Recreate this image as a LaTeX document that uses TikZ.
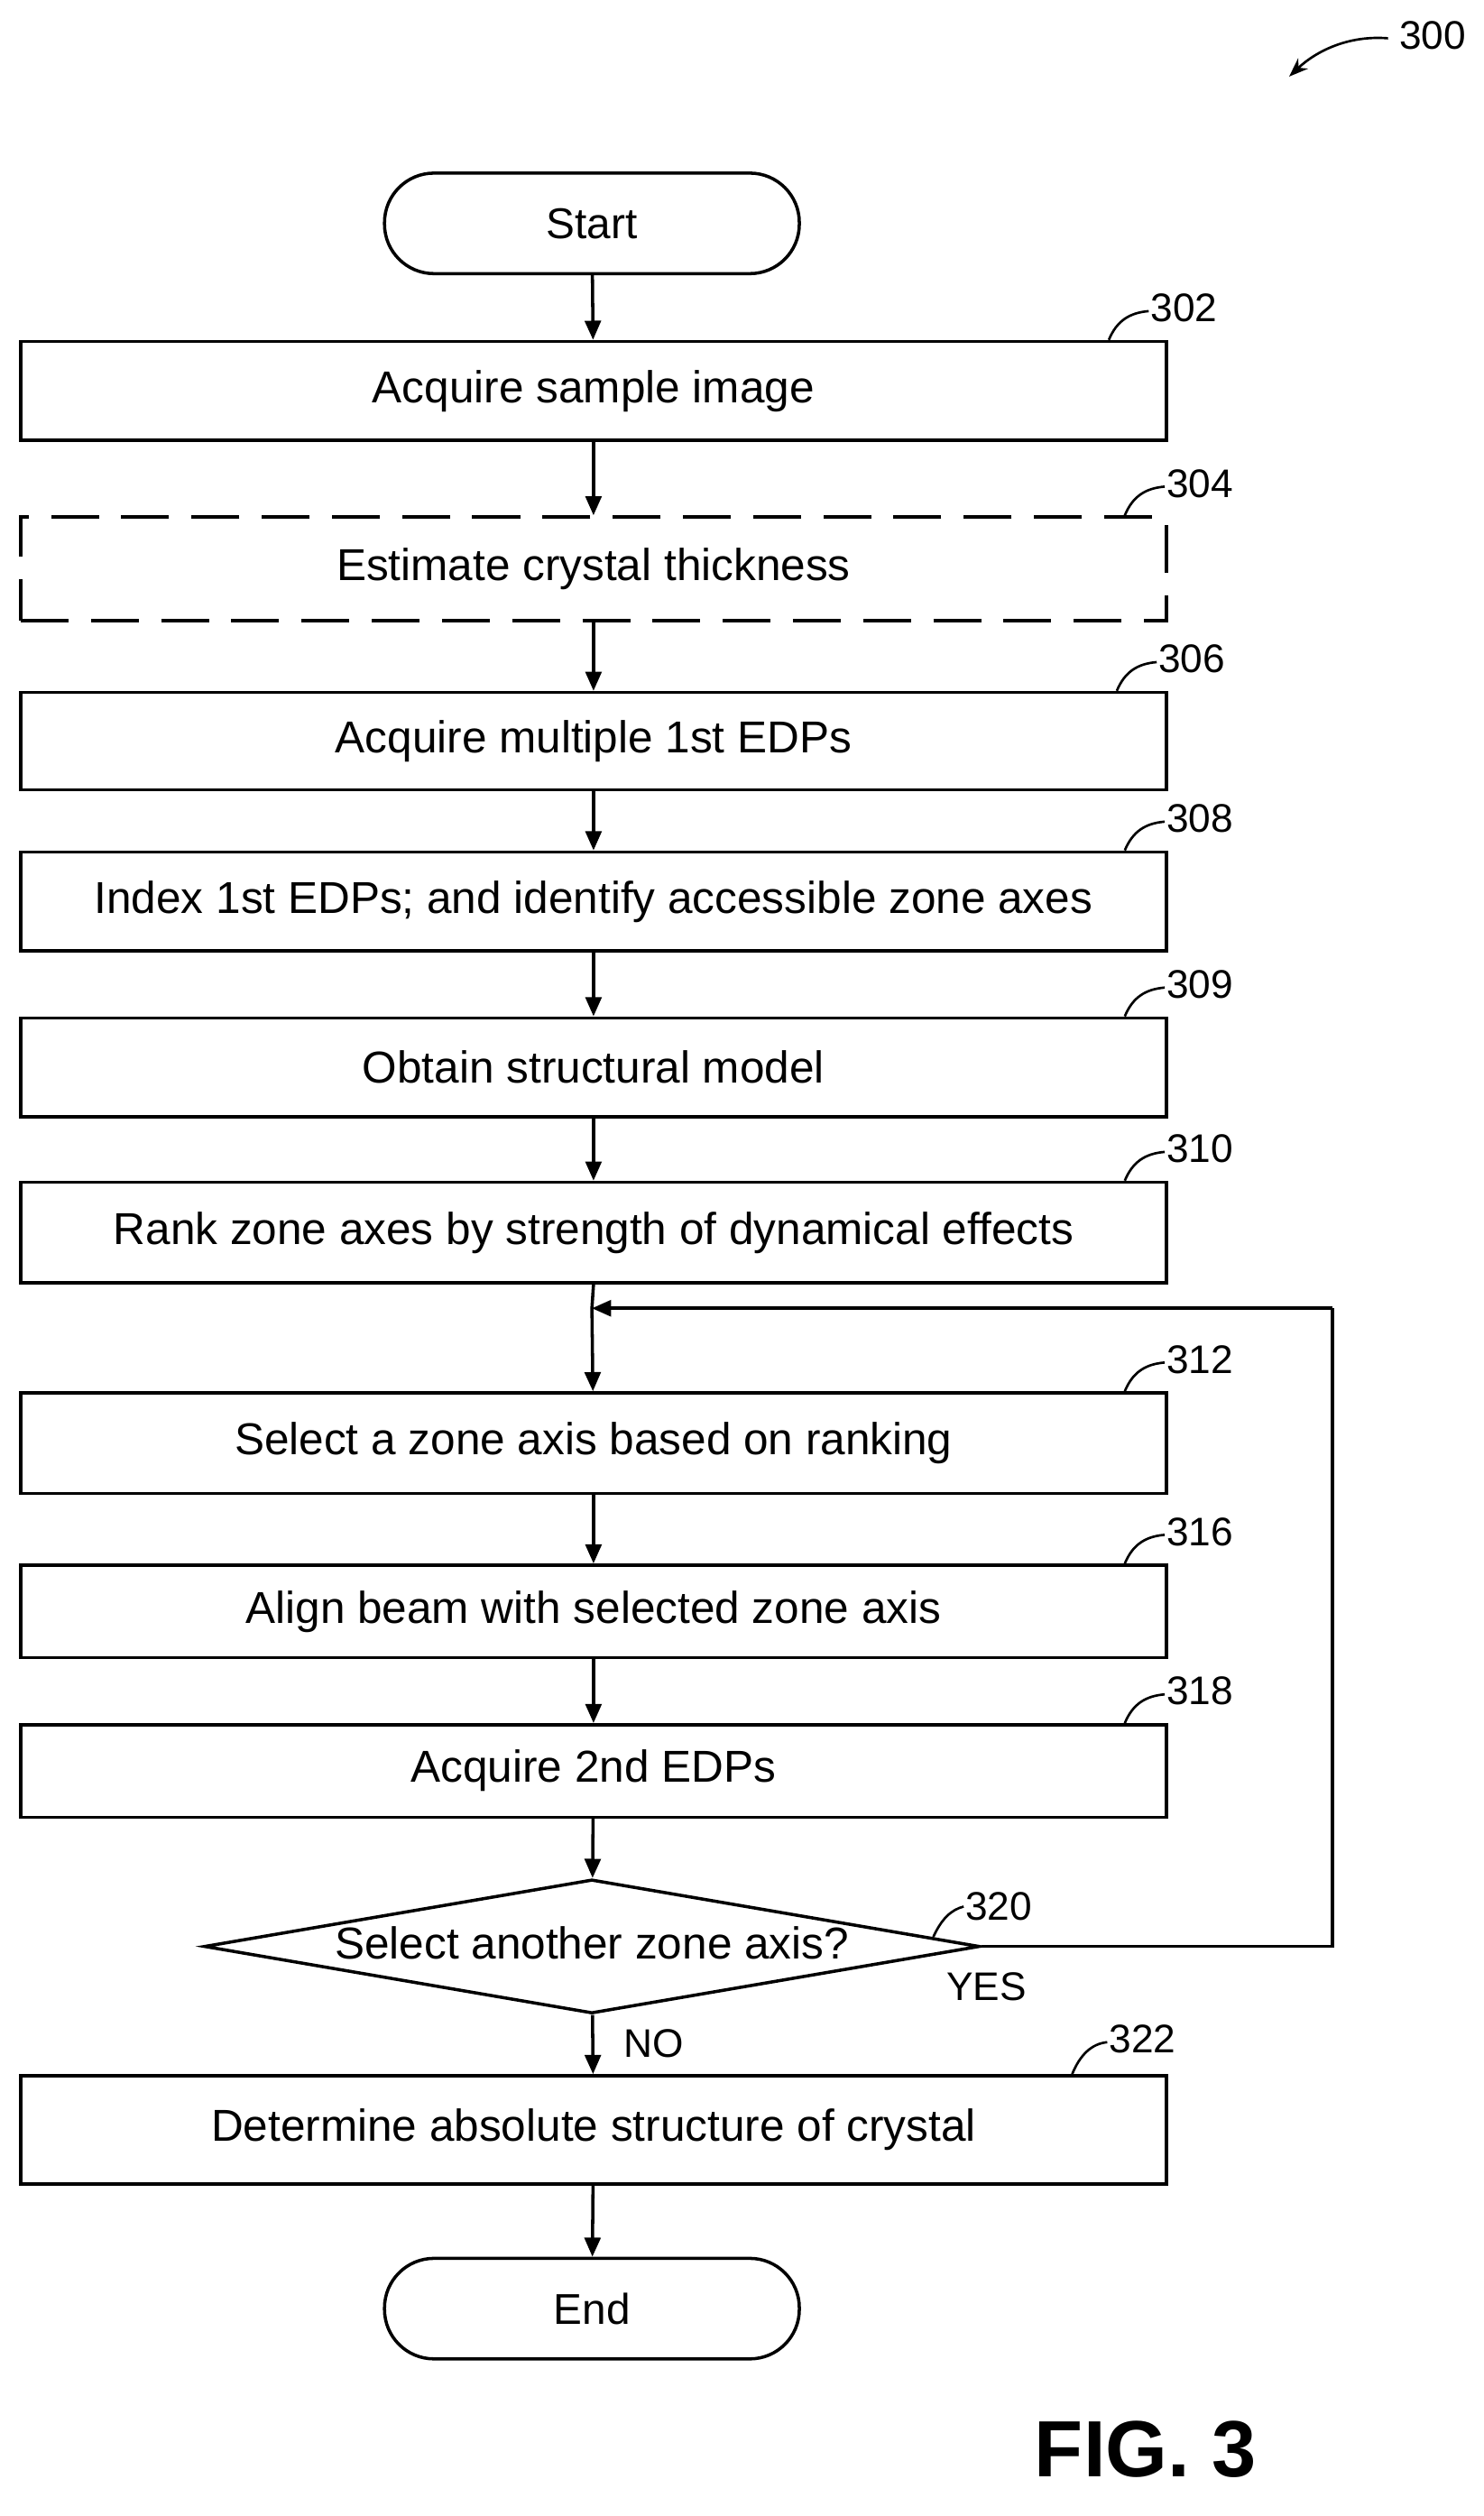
\documentclass[tikz,border=0pt]{standalone}
\usepackage{fontspec}
\setmainfont{Liberation Sans}
\usetikzlibrary{shapes.geometric,arrows.meta}
\begin{document}
\begin{tikzpicture}[x=1pt,y=-1pt,
  every node/.style={font=\fontsize{28}{32}\selectfont},
  box/.style={draw,line width=2pt,minimum width=718pt,anchor=north west,inner sep=0pt},
  term/.style={draw,line width=2pt,rounded corners=31pt,minimum width=260pt,minimum height=63pt,font=\fontsize{27}{30}\selectfont},
  arr/.style={line width=2pt,-{Triangle[length=12pt,width=10pt]}},
  lab/.style={font=\fontsize{25}{28}\selectfont,anchor=west,inner sep=1pt},
  hook/.style={line width=1.5pt}]
\useasboundingbox (0,0) rectangle (930,1577);
\node[term] (start) at (371,140) {Start};
\node[box,minimum height=62pt] (b302) at (12,213) {Acquire sample image};
\node[box,minimum height=65pt,dashed,dash pattern=on 30pt off 14pt] (b304) at (12,323) {Estimate crystal thickness};
\node[box,minimum height=61pt] (b306) at (12,433) {Acquire multiple 1st EDPs};
\node[box,minimum height=62pt] (b308) at (12,533) {Index 1st EDPs; and identify accessible zone axes};
\node[box,minimum height=62pt] (b309) at (12,637) {Obtain structural model};
\node[box,minimum height=63pt] (b310) at (12,740) {Rank zone axes by strength of dynamical effects};
\node[box,minimum height=63pt] (b312) at (12,872) {Select a zone axis based on ranking};
\node[box,minimum height=58pt] (b316) at (12,980) {Align beam with selected zone axis};
\node[box,minimum height=58pt] (b318) at (12,1080) {Acquire 2nd EDPs};
\node[draw,line width=2pt,diamond,aspect=5.8,minimum width=486pt,minimum height=84pt,inner sep=0pt] (d320) at (371,1220) {};
\node at (371,1218) {Select another zone axis?};
\node[box,minimum height=68pt] (b322) at (12,1300) {Determine absolute structure of crystal};
\node[term] (end) at (371,1447) {End};
\coordinate (j) at (371,820);
\coordinate (r1) at (835,1220);
\coordinate (r2) at (835,820);
\draw[arr] (start) -- (b302);
\draw[arr] (b302) -- (b304);
\draw[arr] (b304) -- (b306);
\draw[arr] (b306) -- (b308);
\draw[arr] (b308) -- (b309);
\draw[arr] (b309) -- (b310);
\draw[line width=2pt] (b310.south) -- (j);
\draw[arr] (j) -- (b312);
\draw[arr] (b312) -- (b316);
\draw[arr] (b316) -- (b318);
\draw[arr] (b318) -- (d320);
\draw[arr] (d320) -- (b322);
\draw[arr] (b322) -- (end);
\draw[line width=2pt] (d320.east) -- (r1) -- (r2);
\draw[arr] (r2) -- (j);
\node[lab] at (592,1245) {YES};
\node[lab] at (390,1281) {NO};
\foreach \n/\y/\lx in {302/213/720,304/323/730,306/433/725,308/533/730,309/637/730,310/740/730,312/872/730,316/980/730,318/1080/730}{
  \draw[hook] (\lx-25,\y) .. controls (\lx-20,\y-12) and (\lx-12,\y-17) .. (\lx,\y-18);
  \node[lab] (l\n) at (\lx,\y-20) {\n};
}
\draw[hook] (585,1214) .. controls (590,1203) and (596,1197) .. (604,1195);
\node[lab] (l320) at (604,1195) {320};
\draw[hook] (672,1300) .. controls (677,1288) and (684,1281) .. (694,1280);
\node[lab] (l322) at (694,1278) {322};
\node[lab] (l300) at (876,22) {300};
\draw[hook,-{Stealth[length=12pt,width=9pt]}] (870,24) .. controls (845,22) and (825,32) .. (808,48);
\node[font=\bfseries\fontsize{50}{56}\selectfont] (fig) at (718,1535) {FIG. 3};
\end{tikzpicture}
\end{document}
